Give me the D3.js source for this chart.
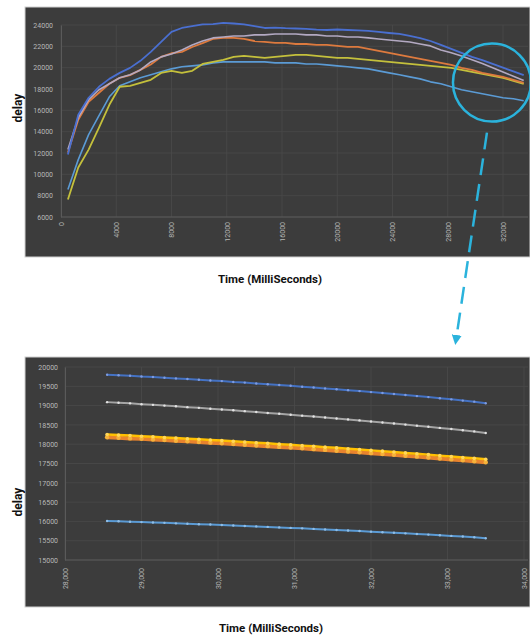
<!DOCTYPE html>
<html>
<head>
<meta charset="utf-8">
<script src="https://cdn.jsdelivr.net/npm/d3@7"></script>
<style>
  body { margin: 0; background: #fff; }
  text { font-family: Roboto, "Noto Sans", sans-serif; }
</style>
</head>
<body>
<div id="chart"></div>
<script>
// ---- data: full run ----
const topTimes = [500, 1250, 2000, 2750, 3500, 4250, 5000, 5750, 6500, 7250, 8000, 8750, 9500, 10250, 11000,
  11750, 12500, 13250, 14000, 14750, 15500, 16250, 17000, 17750, 18500, 19250, 20000, 20750, 21500, 22250,
  23000, 23750, 24500, 25250, 26000, 26750, 27500, 28250, 29000, 29750, 30500, 31250, 32000, 32750, 33500];

const topBlue = [11850, 15590, 17180, 18210, 18950, 19510, 19980, 20640, 21480, 22410, 23350, 23720, 23900, 24050, 24090,
  24190, 24140, 24050, 23900, 23720, 23760, 23700, 23670, 23630, 23560, 23530, 23580, 23530, 23490, 23440,
  23350, 23250, 23160, 22970, 22780, 22500, 22130, 21760, 21380, 21010, 20700, 20350, 20000, 19650, 19300];
const topGray = [12320, 15310, 16990, 17930, 18490, 19050, 19330, 19790, 20540, 21010, 21290, 21660, 22130, 22500, 22790,
  22880, 22970, 22970, 23070, 23070, 23160, 23160, 23160, 23070, 23070, 22970, 22970, 22880, 22880, 22790,
  22690, 22600, 22500, 22410, 22220, 22040, 21650, 21400, 21100, 20750, 20400, 20000, 19600, 19200, 18800];
const topOrange = [12040, 15120, 16800, 17650, 18490, 19050, 19300, 19790, 20300, 21010, 21350, 21480, 21940, 22300, 22690,
  22790, 22790, 22690, 22500, 22410, 22320, 22320, 22220, 22220, 22130, 22130, 22040, 21940, 21940, 21760,
  21570, 21380, 21200, 21010, 20820, 20640, 20450, 20260, 19980, 19790, 19510, 19330, 19140, 18860, 18580];
const topYellow = [7640, 10640, 12320, 14370, 16520, 18210, 18300, 18580, 18860, 19510, 19700, 19510, 19700, 20350, 20540,
  20730, 21010, 21100, 21010, 20920, 21010, 21100, 21200, 21200, 21100, 21010, 20920, 20920, 20820, 20730,
  20640, 20540, 20450, 20350, 20260, 20170, 20070, 19980, 19790, 19600, 19420, 19230, 19050, 18770, 18490];
const topLightBlue = [8580, 11380, 13720, 15500, 17270, 18300, 18670, 19050, 19330, 19610, 19890, 20080, 20170, 20260, 20450,
  20540, 20540, 20540, 20540, 20540, 20450, 20450, 20450, 20350, 20350, 20260, 20170, 20080, 19980, 19890,
  19700, 19510, 19330, 19140, 18950, 18670, 18490, 18210, 17930, 17740, 17550, 17360, 17180, 17080, 16900];

const topXTicks = [0, 4000, 8000, 12000, 16000, 20000, 24000, 28000, 32000];
const topYTicks = [6000, 8000, 10000, 12000, 14000, 16000, 18000, 20000, 22000, 24000];

// ---- data: zoomed tail ----
const zoomTimes = [28550, 28700, 28850, 29000, 29150, 29300, 29450, 29600, 29750, 29900, 30050, 30200,
  30350, 30500, 30650, 30800, 30950, 31100, 31250, 31400, 31550, 31700, 31850, 32000, 32150, 32300,
  32450, 32600, 32750, 32900, 33050, 33200, 33350, 33500];

const zoomBlue = [19800, 19785, 19772, 19752, 19740, 19721, 19705, 19688, 19670, 19651, 19635, 19612,
  19596, 19574, 19555, 19533, 19514, 19490, 19470, 19446, 19424, 19400, 19376, 19350, 19327, 19300,
  19274, 19246, 19220, 19190, 19162, 19130, 19102, 19060];
const zoomGray = [19090, 19072, 19058, 19036, 19020, 19000, 18983, 18960, 18942, 18920, 18900, 18878,
  18856, 18834, 18810, 18788, 18764, 18740, 18716, 18692, 18666, 18642, 18616, 18590, 18563, 18536,
  18508, 18480, 18452, 18422, 18393, 18362, 18332, 18290];
const zoomOrange = [18180, 18168, 18150, 18138, 18120, 18106, 18088, 18074, 18056, 18040, 18022, 18005,
  17986, 17968, 17950, 17930, 17912, 17892, 17872, 17852, 17832, 17810, 17790, 17768, 17746, 17724,
  17700, 17678, 17655, 17630, 17606, 17582, 17558, 17534];
const zoomYellow = [18252, 18236, 18224, 18206, 18193, 18174, 18160, 18141, 18127, 18108, 18093, 18074,
  18058, 18038, 18022, 18001, 17984, 17963, 17945, 17924, 17905, 17882, 17863, 17840, 17820, 17796,
  17775, 17751, 17730, 17704, 17682, 17656, 17634, 17608];
const zoomLightBlue = [16010, 16002, 15990, 15982, 15970, 15962, 15950, 15940, 15928, 15918, 15905, 15895,
  15882, 15870, 15858, 15845, 15832, 15820, 15806, 15792, 15778, 15764, 15750, 15735, 15720, 15705,
  15690, 15674, 15658, 15641, 15624, 15607, 15590, 15565];

const zoomXTicks = [28000, 29000, 30000, 31000, 32000, 33000, 34000];
const zoomYTicks = [15000, 15500, 16000, 16500, 17000, 17500, 18000, 18500, 19000, 19500, 20000];

const xTitle = "Time (MilliSeconds)";
const yTitle = "delay";

// ---- layout ----
const W = 530, H = 638;
const svg = d3.select("#chart").append("svg").attr("width", W).attr("height", H);

const bg = "#3c3c3c", grid = "#4a4a4a", tickColor = "#b8b8b8";

function panel(cfg) {
  const g = svg.append("g");
  g.append("rect")
    .attr("x", cfg.box[0]).attr("y", cfg.box[1])
    .attr("width", cfg.box[2]).attr("height", cfg.box[3])
    .attr("fill", bg).attr("stroke", "#d0d0d0").attr("stroke-width", 1);

  const x = d3.scaleLinear().domain(cfg.xDomain).range(cfg.xRange);
  const y = d3.scaleLinear().domain(cfg.yDomain).range(cfg.yRange);
  const plotRight = cfg.plotRight;

  // grid
  g.append("g").selectAll("line").data(cfg.yTicks).join("line")
    .attr("x1", x.range()[0]).attr("x2", plotRight)
    .attr("y1", d => y(d)).attr("y2", d => y(d))
    .attr("stroke", grid).attr("stroke-width", 0.8);
  g.append("g").selectAll("line").data(cfg.xTicks).join("line")
    .attr("x1", d => x(d)).attr("x2", d => x(d))
    .attr("y1", y.range()[1]).attr("y2", y.range()[0])
    .attr("stroke", grid).attr("stroke-width", 0.8);

  // axes
  const ya = g.append("g").attr("transform", `translate(${x.range()[0]},0)`)
    .call(d3.axisLeft(y).tickValues(cfg.yTicks).tickSize(0).tickPadding(cfg.yPad).tickFormat(d3.format("d")));
  ya.select(".domain").attr("stroke", "#5a5a5a");
  ya.selectAll("text").attr("fill", tickColor).style("font-size", "7px");

  const xa = g.append("g").attr("transform", `translate(0,${y.range()[0]})`)
    .call(d3.axisBottom(x).tickValues(cfg.xTicks).tickSize(0).tickFormat(cfg.xFormat));
  xa.select(".domain").attr("stroke", "#5a5a5a").attr("d", `M${x.range()[0]},0H${plotRight}`);
  xa.selectAll("text")
    .attr("fill", tickColor).style("font-size", "7px")
    .attr("transform", "rotate(-90)")
    .attr("x", -cfg.xPad).attr("y", 0).attr("dy", "0.35em")
    .style("text-anchor", "end");

  // series
  const line = d3.line().x((d, i) => x(cfg.times[i])).y(d => y(d));
  cfg.series.forEach(s => {
    g.append("path").datum(s.values)
      .attr("fill", "none").attr("stroke", s.color)
      .attr("stroke-width", s.width).attr("stroke-linejoin", "round")
      .attr("d", line);
    if (s.dot) {
      g.append("g").selectAll("circle").data(s.values).join("circle")
        .attr("cx", (d, i) => x(cfg.times[i])).attr("cy", d => y(d))
        .attr("r", s.r).attr("fill", s.dot);
    }
  });

  // titles
  svg.append("text")
    .attr("transform", `translate(${cfg.yTitle[0]},${cfg.yTitle[1]}) rotate(-90)`)
    .attr("text-anchor", "middle").attr("dy", "0.35em")
    .style("font-size", "12px").style("font-weight", "bold").attr("fill", "#111")
    .text(yTitle);
  svg.append("text")
    .attr("x", cfg.xTitle[0]).attr("y", cfg.xTitle[1])
    .attr("text-anchor", "middle").attr("dy", "0.35em")
    .style("font-size", "11.5px").style("font-weight", "bold").attr("fill", "#111")
    .text(xTitle);

  return { x, y };
}

const fullChart = panel({
  box: [25, 7, 505, 250],
  xDomain: [0, 32000], xRange: [61, 503], plotRight: 528,
  yDomain: [6000, 24000], yRange: [217, 25],
  xTicks: topXTicks, yTicks: topYTicks, xFormat: d3.format("d"),
  yPad: 8, xPad: 5,
  times: topTimes,
  series: [
    { values: topLightBlue, color: "#5b9bd5", width: 1.6 },
    { values: topYellow, color: "#c4c03c", width: 1.8 },
    { values: topOrange, color: "#dd7a3e", width: 1.8 },
    { values: topGray, color: "#b3a9c2", width: 1.6 },
    { values: topBlue, color: "#4a6fd0", width: 1.8 }
  ],
  yTitle: [18, 108], xTitle: [270, 279]
});

const zoomChart = panel({
  box: [25, 357, 505, 250],
  xDomain: [28000, 34000], xRange: [65, 524], plotRight: 528,
  yDomain: [15000, 20000], yRange: [560, 367],
  xTicks: zoomXTicks, yTicks: zoomYTicks, xFormat: d3.format(","),
  yPad: 7, xPad: 8,
  times: zoomTimes,
  series: [
    { values: zoomLightBlue, color: "#5b9bd5", width: 2, dot: "#8fbde6", r: 1.2 },
    { values: zoomOrange, color: "#e8832e", width: 4, dot: "#f6b23a", r: 2.2 },
    { values: zoomYellow, color: "#ffc000", width: 2.5, dot: "#ffd65a", r: 1.8 },
    { values: zoomGray, color: "#a5a5a5", width: 2, dot: "#e2e2e2", r: 1.2 },
    { values: zoomBlue, color: "#4472c4", width: 2, dot: "#7d9be0", r: 1.2 }
  ],
  yTitle: [18, 502], xTitle: [271, 628]
});

// ---- annotation: circle on the tail and arrow down to the zoom ----
const cx = fullChart.x(31200), cy = fullChart.y(18600);
svg.append("circle").attr("cx", cx).attr("cy", cy).attr("r", 39)
  .attr("fill", "none").attr("stroke", "#2bb3dc").attr("stroke-width", 2.5);

svg.append("defs").append("marker")
  .attr("id", "head").attr("viewBox", "0 0 10 10").attr("refX", 5).attr("refY", 5)
  .attr("markerWidth", 4).attr("markerHeight", 4).attr("orient", "auto")
  .append("path").attr("d", "M0,0L10,5L0,10Z").attr("fill", "#2bb3dc");

svg.append("line")
  .attr("x1", cx - 5).attr("y1", cy + 50)
  .attr("x2", 456).attr("y2", 340)
  .attr("stroke", "#2bb3dc").attr("stroke-width", 2.5)
  .attr("stroke-dasharray", "17,9")
  .attr("marker-end", "url(#head)");
</script>
</body>
</html>
